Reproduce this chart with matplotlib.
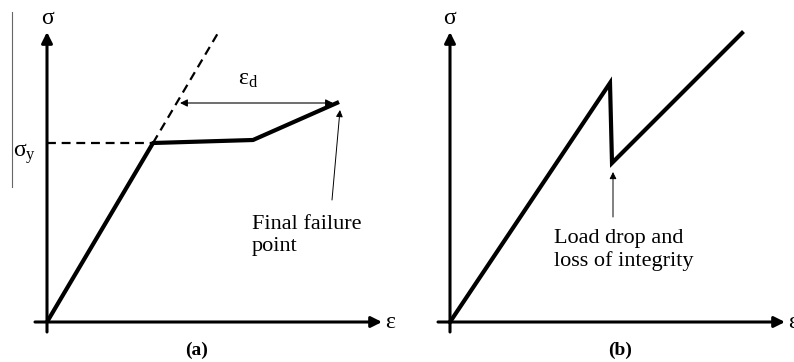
import matplotlib.pyplot as plt

plt.rcParams['font.family'] = ['Liberation Serif', 'DejaVu Serif']
plt.rcParams['mathtext.fontset'] = 'custom'
plt.rcParams['mathtext.rm'] = 'Liberation Serif'
plt.rcParams['mathtext.it'] = 'Liberation Serif'

# schematic stress-strain curves (arbitrary units)
strain_a = [0.0, 1.06, 2.06, 2.92]
stress_a = [0.0, 1.79, 1.82, 2.20]
elastic_ext_x = [1.06, 1.71]
elastic_ext_y = [1.79, 2.89]
yield_stress = 1.79
eps_d_range = [1.33, 2.86]
eps_d_level = 2.19

strain_b = [0.0, 1.60, 1.62, 2.92]
stress_b = [0.0, 2.39, 1.59, 2.89]

label_a = "Final failure\npoint"
label_b = "Load drop and\nloss of integrity"

fig = plt.figure(figsize=(7.94, 3.62), dpi=100)
ax_a = fig.add_axes([0, 0, 400 / 794, 1])
ax_b = fig.add_axes([400 / 794, 0, 394 / 794, 1])
ax_a.set_xlim(-0.47, 3.53)
ax_a.set_ylim(-0.40, 3.22)
ax_b.set_xlim(-0.50, 3.44)
ax_b.set_ylim(-0.40, 3.22)

head = dict(arrowstyle='-|>', lw=2.2, color='black', mutation_scale=16,
            shrinkA=0, shrinkB=0)
thin = dict(arrowstyle='-|>', lw=0.7, color='black', mutation_scale=10,
            shrinkA=0, shrinkB=0)


def draw_axes(ax, xend):
    ax.annotate('', xy=(xend, 0), xytext=(-0.12, 0), arrowprops=head)
    ax.annotate('', xy=(0, 2.90), xytext=(0, -0.10), arrowprops=head)
    ax.text(0, 3.03, 'σ', fontsize=17, ha='center', va='center')
    ax.text(xend + 0.08, 0.0, 'ε', fontsize=17, ha='center', va='center')
    ax.axis('off')


# (a)
draw_axes(ax_a, 3.35)
ax_a.plot(strain_a, stress_a, color='black', lw=3.0, solid_capstyle='butt')
ax_a.plot(elastic_ext_x, elastic_ext_y, color='black', lw=1.6, ls=(0, (4, 2.6)))
ax_a.plot([0, strain_a[1]], [yield_stress, yield_stress], color='black', lw=1.6,
          ls=(0, (4, 2.6)))
ax_a.text(-0.22, yield_stress - 0.11, r'$\mathrm{\sigma_y}$', fontsize=17,
          ha='center', va='center')
ax_a.plot([-0.35, -0.35], [1.35, 3.10], color='#666666', lw=0.8)
ax_a.annotate('', xy=(eps_d_range[1], eps_d_level), xytext=(eps_d_range[0], eps_d_level),
              arrowprops=dict(arrowstyle='<|-|>', lw=0.8, color='black',
                              mutation_scale=11, shrinkA=0, shrinkB=0))
ax_a.text(2.01, 2.42, r'$\mathrm{\epsilon_d}$', fontsize=17, ha='center', va='center')
ax_a.text(2.05, 0.865, label_a, fontsize=16, ha='left', va='center', linespacing=1.25)
ax_a.annotate('', xy=(2.93, 2.12), xytext=(2.85, 1.22), arrowprops=thin)
ax_a.text(1.50, -0.28, '(a)', fontsize=14, fontweight='bold', ha='center', va='center')

# (b)
draw_axes(ax_b, 3.35)
ax_b.plot(strain_b, stress_b, color='black', lw=3.0, solid_joinstyle='miter')
ax_b.text(1.04, 0.72, label_b, fontsize=16, ha='left', va='center', linespacing=1.25)
ax_b.annotate('', xy=(strain_b[2] + 0.01, 1.50), xytext=(1.63, 1.05), arrowprops=thin)
ax_b.text(1.70, -0.28, '(b)', fontsize=14, fontweight='bold', ha='center', va='center')

fig.savefig('out.png', dpi=100)
